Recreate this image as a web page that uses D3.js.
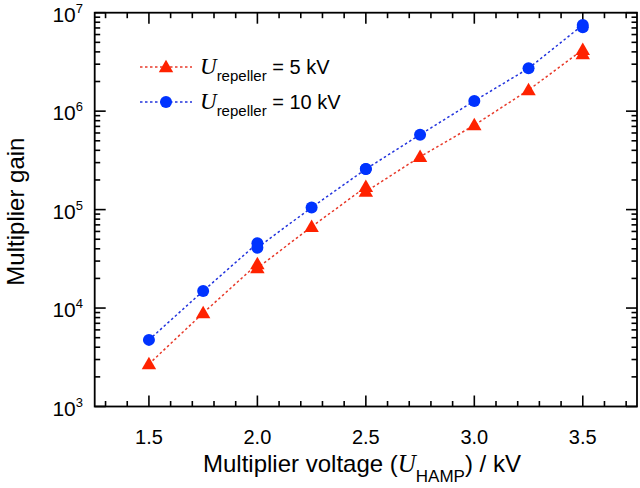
<!DOCTYPE html>
<html><head><meta charset="utf-8">
<script src="https://cdn.jsdelivr.net/npm/d3@7/dist/d3.min.js"></script>
<style>body{margin:0;background:#fff}svg{display:block}</style>
</head><body>
<svg id="c" width="640" height="488"></svg>
<script>
const voltage = [1.5, 1.75, 2.0, 2.0, 2.25, 2.5, 2.5, 2.75, 3.0, 3.25, 3.5, 3.5];
const gain5kV = [2700, 8900, 28000, 25500, 67000, 170000, 152000, 344000, 720000, 1640000, 4200000, 3800000];
const gain10kV = [4750, 14900, 45500, 41000, 105000, 258000, 258000, 577000, 1270000, 2720000, 7500000, 7100000];
const xTicks = [1.5, 2.0, 2.5, 3.0, 3.5];
const yTickExp = [3, 4, 5, 6, 7];
const seriesNames = ["5 kV", "10 kV"];

const svg = d3.select("#c");
const m = {l: 94.7, r: 637, t: 12.7, b: 406.5};
const x = d3.scaleLinear().domain([1.25, 3.75]).range([m.l, m.r]);
const y = d3.scaleLog().domain([1e3, 1e7]).range([m.b, m.t]);
const sans = "Liberation Sans, Arial, sans-serif";
const serif = "Liberation Serif, Times New Roman, serif";

// ticks
const minorX = d3.range(13, 38).map(d => d / 10).filter(d => Math.abs(d * 2 - Math.round(d * 2)) > 1e-6);
const minorY = [];
for (let e = 3; e < 7; e++) for (let k = 2; k <= 9; k++) minorY.push(k * Math.pow(10, e));

const g = svg.append("g").attr("stroke", "#000").attr("stroke-width", 1.6);
const majL = 11, minL = 5.5;
xTicks.forEach(v => {
  g.append("line").attr("x1", x(v)).attr("x2", x(v)).attr("y1", m.b).attr("y2", m.b - majL);
  g.append("line").attr("x1", x(v)).attr("x2", x(v)).attr("y1", m.t).attr("y2", m.t + majL);
});
minorX.forEach(v => {
  g.append("line").attr("x1", x(v)).attr("x2", x(v)).attr("y1", m.b).attr("y2", m.b - minL);
  g.append("line").attr("x1", x(v)).attr("x2", x(v)).attr("y1", m.t).attr("y2", m.t + minL);
});
yTickExp.forEach(e => {
  const v = Math.pow(10, e);
  g.append("line").attr("x1", m.l).attr("x2", m.l + majL).attr("y1", y(v)).attr("y2", y(v));
  g.append("line").attr("x1", m.r).attr("x2", m.r - majL).attr("y1", y(v)).attr("y2", y(v));
});
minorY.forEach(v => {
  g.append("line").attr("x1", m.l).attr("x2", m.l + minL).attr("y1", y(v)).attr("y2", y(v));
  g.append("line").attr("x1", m.r).attr("x2", m.r - minL).attr("y1", y(v)).attr("y2", y(v));
});
svg.append("rect").attr("x", m.l).attr("y", m.t).attr("width", m.r - m.l).attr("height", m.b - m.t)
  .attr("fill", "none").attr("stroke", "#000").attr("stroke-width", 1.8);

// tick labels
xTicks.forEach(v => {
  svg.append("text").attr("x", x(v)).attr("y", 444).attr("text-anchor", "middle")
    .attr("font-family", sans).attr("font-size", 20).text(d3.format(".1f")(v));
});
yTickExp.forEach(e => {
  const t = svg.append("text").attr("x", 83).attr("y", y(Math.pow(10, e)) + 9).attr("text-anchor", "end")
    .attr("font-family", sans).attr("font-size", 21);
  t.append("tspan").text("10");
  t.append("tspan").attr("font-size", 13).attr("dy", -9).text(e);
});

// axis titles
const xt = svg.append("text").attr("x", 362).attr("y", 472).attr("text-anchor", "middle")
  .attr("font-family", sans).attr("font-size", 24);
xt.append("tspan").text("Multiplier voltage (");
xt.append("tspan").attr("font-family", serif).attr("font-style", "italic").attr("font-size", 25).text("U");
xt.append("tspan").attr("font-size", 17).attr("dy", 10).text("HAMP");
xt.append("tspan").attr("dy", -10).text(") / kV");

svg.append("text").attr("transform", `translate(24,${(m.t + m.b) / 2 + 2}) rotate(-90)`).attr("text-anchor", "middle")
  .attr("font-family", sans).attr("font-size", 24).text("Multiplier gain");

// series
const series = [
  {vals: gain5kV, color: "#ff2200", line: "#e83a2a", shape: "tri", name: seriesNames[0]},
  {vals: gain10kV, color: "#0033ff", line: "#2233dd", shape: "circ", name: seriesNames[1]}
];
const line = d3.line().x(d => x(d[0])).y(d => y(d[1]));
const triSym = d3.symbol().type(d3.symbolTriangle).size(90);

function marker(sel, s, cx, cy) {
  if (s.shape === "tri") {
    sel.append("path").attr("d", triSym()).attr("transform", `translate(${cx},${cy + 1})`).attr("fill", s.color);
  } else {
    sel.append("circle").attr("cx", cx).attr("cy", cy).attr("r", 6).attr("fill", s.color);
  }
}

series.forEach(s => {
  const pts = voltage.map((v, i) => [v, s.vals[i]]);
  svg.append("path").attr("d", line(pts)).attr("fill", "none").attr("stroke", s.line)
    .attr("stroke-width", 1.5).attr("stroke-dasharray", "2.5,2.5");
  const mg = svg.append("g");
  pts.forEach(p => marker(mg, s, x(p[0]), y(p[1])));
});

// legend
series.forEach((s, i) => {
  const ly = 67 + i * 35;
  svg.append("line").attr("x1", 140).attr("x2", 192).attr("y1", ly).attr("y2", ly)
    .attr("stroke", s.line).attr("stroke-width", 1.5).attr("stroke-dasharray", "2.5,2.5");
  marker(svg, s, 166, ly);
  const t = svg.append("text").attr("x", 200).attr("y", ly + 7).attr("font-family", sans).attr("font-size", 20);
  t.append("tspan").attr("font-family", serif).attr("font-style", "italic").attr("font-size", 23).text("U");
  t.append("tspan").attr("font-size", 15).attr("dy", 7).text("repeller");
  t.append("tspan").attr("dy", -7).text(" = " + s.name);
});
</script>
</body></html>
